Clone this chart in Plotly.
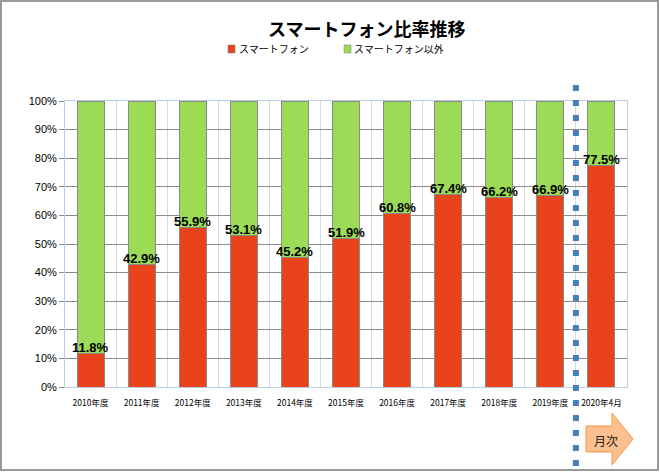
import plotly.graph_objects as go

categories = ["2010年度", "2011年度", "2012年度", "2013年度", "2014年度", "2015年度",
              "2016年度", "2017年度", "2018年度", "2019年度", "2020年4月"]
smartphone = [11.8, 42.9, 55.9, 53.1, 45.2, 51.9, 60.8, 67.4, 66.2, 66.9, 77.5]
other = [round(100 - v, 1) for v in smartphone]
y_ticks = [0, 10, 20, 30, 40, 50, 60, 70, 80, 90, 100]
y_tick_labels = [f"{t}%" for t in y_ticks]
series_names = ["スマートフォン", "スマートフォン以外"]

W, H = 660, 472
L, R, T, B = 65, 33, 101, 85
PW, PH = W - L - R, H - T - B


def px(x):
    return (x - L) / PW


def py(y):
    return (H - B - y) / PH


RED = "#E8431A"
GREEN = "#9BDB55"
JP = "Noto Sans CJK JP"

fig = go.Figure()
fig.add_trace(go.Bar(x=categories, y=smartphone, name=series_names[0],
                     marker=dict(color=RED, line=dict(color="#8A8A8A", width=1)), width=0.53))
fig.add_trace(go.Bar(x=categories, y=other, name=series_names[1],
                     marker=dict(color=GREEN, line=dict(color="#8A8A8A", width=1)), width=0.53))

for c, v in zip(categories, smartphone):
    fig.add_annotation(x=c, y=v, text=f"<b>{v:.1f}%</b>", showarrow=False,
                       yanchor="middle", yshift=6,
                       font=dict(family="Liberation Sans, Arial", size=13, color="#000"))

shapes = []
# outer frame
shapes.append(dict(type="rect", xref="paper", yref="paper",
                   x0=px(1), x1=px(658), y0=py(1), y1=py(470),
                   line=dict(color="#999999", width=2), fillcolor="rgba(0,0,0,0)", layer="below"))
# dotted separator
shapes.append(dict(type="line", xref="x", yref="paper", x0=9.5, x1=9.5,
                   y0=py(85), y1=py(470),
                   line=dict(color="#4A7EBB", width=6, dash="6px,9px")))
# arrow
pts = [(586, 426), (612, 426), (612, 413), (633, 439), (612, 465), (612, 452), (586, 452)]
path = "M " + " L ".join(f"{px(a):.5f},{py(b):.5f}" for a, b in pts) + " Z"
shapes.append(dict(type="path", xref="paper", yref="paper", path=path,
                   fillcolor="#FBC08E", line=dict(color="#F79646", width=1)))
# legend swatches
for sx, col in [(228, RED), (344, GREEN)]:
    shapes.append(dict(type="rect", xref="paper", yref="paper",
                       x0=px(sx), x1=px(sx + 7), y0=py(45), y1=py(53),
                       fillcolor=col, line=dict(color="#777", width=0.5)))
fig.update_layout(shapes=shapes)

for tx, name in [(237, series_names[0]), (352, series_names[1])]:
    fig.add_annotation(xref="paper", yref="paper", x=px(tx), y=py(49), text=name,
                       showarrow=False, xanchor="left", yanchor="middle",
                       font=dict(family=JP, size=10, color="#000"))

fig.add_annotation(xref="paper", yref="paper", x=px(592), y=py(440), text="月次",
                   showarrow=False, xanchor="left", yanchor="middle",
                   font=dict(family=JP, size=12, color="#222"))

fig.add_annotation(xref="paper", yref="paper", x=px(366), y=py(28), text="<b>スマートフォン比率推移</b>",
                   showarrow=False, xanchor="center", yanchor="middle",
                   font=dict(family=JP, size=18, color="#000"))

fig.update_layout(
    width=W, height=H,
    margin=dict(l=L, r=R, t=T, b=B),
    paper_bgcolor="white", plot_bgcolor="white",
    barmode="stack",
    showlegend=False,
    xaxis=dict(type="category", tickson="boundaries", showgrid=True, gridcolor="#D9D9D9",
               gridwidth=1, showline=True, linecolor="#B9CDE5", mirror=True, ticks="",
               tickfont=dict(family=JP, size=8.5, color="#000"), ticklabelstandoff=8,
               range=[-0.5, 10.5]),
    yaxis=dict(range=[0, 100], tickvals=y_ticks, ticktext=y_tick_labels,
               showgrid=True, gridcolor="#8C8C8C", gridwidth=1,
               showline=True, linecolor="#B9CDE5", mirror=True,
               ticks="outside", ticklen=5, tickcolor="#8C8C8C",
               tickfont=dict(family="Liberation Sans, Arial", size=11, color="#000"),
               zeroline=False),
    font=dict(family=JP),
)

fig.write_html("out.html", config={"displayModeBar": False},
               post_script="document.body.style.margin='0';document.body.style.overflow='hidden';")
